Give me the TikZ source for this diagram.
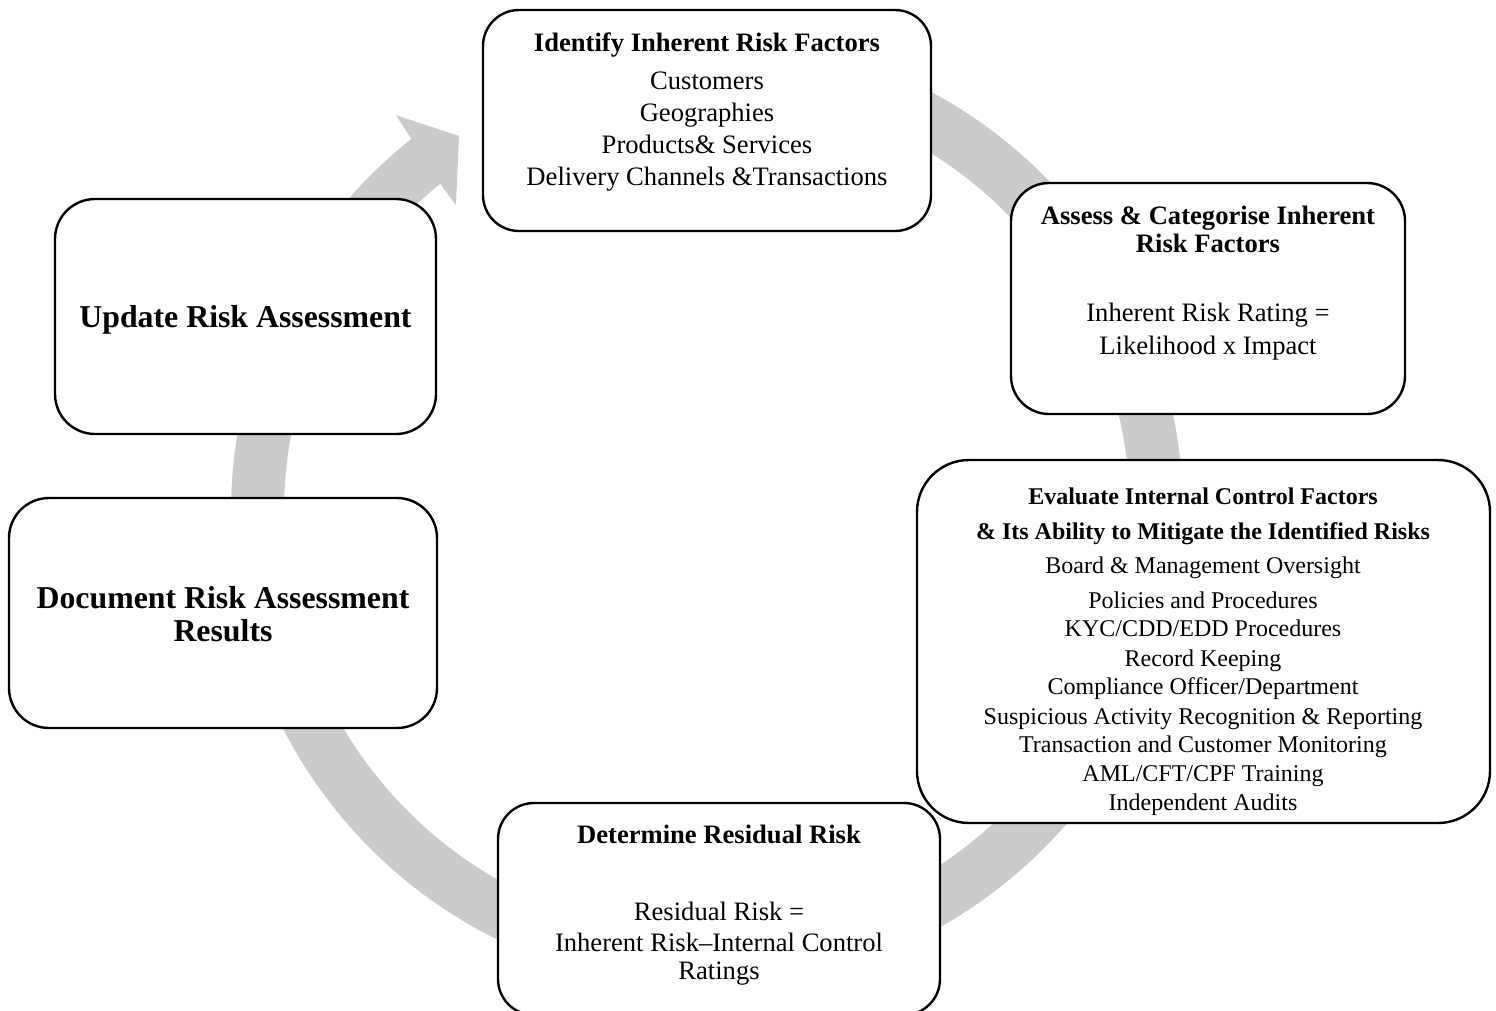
\documentclass[tikz,border=0pt]{standalone}
\usepackage{fontspec}
\setmainfont{Liberation Serif}
\usetikzlibrary{calc}
\definecolor{bandgray}{RGB}{203,203,203}
\tikzset{
  boxnode/.style={draw=black, line width=2.4pt, fill=white, rounded corners=#1, inner sep=0pt},
  boxnode/.default=38pt,
  regtxt/.style={font=\fontsize{26.6}{32}\selectfont, anchor=base, inner sep=0pt},
  bldtxt/.style={font=\fontsize{26.6}{32}\selectfont\bfseries, anchor=base, inner sep=0pt},
  smregtxt/.style={font=\fontsize{24}{29}\selectfont, anchor=base, inner sep=0pt},
  smbldtxt/.style={font=\fontsize{24}{29}\selectfont\bfseries, anchor=base, inner sep=0pt},
  bigbldtxt/.style={font=\fontsize{31.8}{34}\selectfont\bfseries, anchor=base, inner sep=0pt},
  band/.style={fill=bandgray}
}
\begin{document}
\begin{tikzpicture}[x=1pt,y=-1pt]
\useasboundingbox (0,0) rectangle (1496,1010);
\coordinate (c) at (707,512);
% circular arrow band
\fill[band] ($(c)+(-85:476)$) arc[start angle=-85, end angle=231.6, radius=476]
  -- ($(c)+(231.9:504.3)$) -- ($(c)+(236.6:450.4)$) -- ($(c)+(230.7:396.5)$)
  -- ($(c)+(230.9:423)$) arc[start angle=230.9, end angle=-85, radius=423] -- cycle;

% boxes
\node[boxnode=36pt, minimum width=448pt, minimum height=221pt] (identify) at (707,120.5) {};
\node[boxnode=38pt, minimum width=394pt, minimum height=231pt] (assess) at (1208,298.5) {};
\node[boxnode=52pt, minimum width=573pt, minimum height=363pt] (evaluate) at (1203.5,641.5) {};
\node[boxnode=36pt, minimum width=442pt, minimum height=212pt] (determine) at (719,909) {};
\node[boxnode=40pt, minimum width=381pt, minimum height=235pt] (update) at (245.5,316.5) {};
\node[boxnode=40pt, minimum width=428pt, minimum height=230pt] (document) at (223,613) {};

% identify texts
\node[bldtxt] (id0) at (707,51) {Identify Inherent Risk Factors};
\node[regtxt] (id1) at (707,89) {Customers};
\node[regtxt] (id2) at (707,121) {Geographies};
\node[regtxt] (id3) at (707,153) {Products\& Services};
\node[regtxt] (id4) at (707,185) {Delivery Channels \&Transactions};

% assess texts
\node[bldtxt] (as0) at (1208,224) {Assess \& Categorise Inherent};
\node[bldtxt] (as1) at (1208,252) {Risk Factors};
\node[regtxt] (as2) at (1208,321) {Inherent Risk Rating =};
\node[regtxt] (as3) at (1208,354) {Likelihood x Impact};

% evaluate texts
\node[smbldtxt] (ev0) at (1203,504) {Evaluate Internal Control Factors};
\node[smbldtxt] (ev1) at (1203,539) {\& Its Ability to Mitigate the Identified Risks};
\node[smregtxt] (ev2) at (1203,573) {Board \& Management Oversight};
\node[smregtxt] (ev3) at (1203,608) {Policies and Procedures};
\node[smregtxt] (ev4) at (1203,636) {KYC/CDD/EDD Procedures};
\node[smregtxt] (ev5) at (1203,666) {Record Keeping};
\node[smregtxt] (ev6) at (1203,694) {Compliance Officer/Department};
\node[smregtxt] (ev7) at (1203,724) {Suspicious Activity Recognition \& Reporting};
\node[smregtxt] (ev8) at (1203,752) {Transaction and Customer Monitoring};
\node[smregtxt] (ev9) at (1203,781) {AML/CFT/CPF Training};
\node[smregtxt] (ev10) at (1203,810) {Independent Audits};

% determine texts
\node[bldtxt] (de0) at (719,843) {Determine Residual Risk};
\node[regtxt] (de1) at (719,920) {Residual Risk =};
\node[regtxt] (de2) at (719,951) {Inherent Risk–Internal Control};
\node[regtxt] (de3) at (719,979) {Ratings};

% update / document texts
\node[bigbldtxt] (up0) at (245.5,327) {Update Risk Assessment};
\node[bigbldtxt] (do0) at (223,608) {Document Risk Assessment};
\node[bigbldtxt] (do1) at (223,641) {Results};
\end{tikzpicture}
\end{document}
